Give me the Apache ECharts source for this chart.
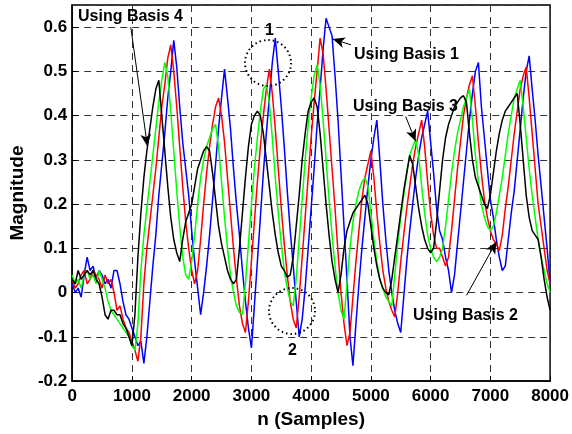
<!DOCTYPE html>
<html><head><meta charset="utf-8">
<script src="https://cdn.jsdelivr.net/npm/echarts@6/dist/echarts.min.js"></script>
<style>html,body{margin:0;padding:0;background:#fff}#c{width:572px;height:434px}</style>
</head><body><div id="c"></div>
<script>
// sample spacing of the read-off points (n, samples)
const STEP = 50;
const xTicks = [0,1000,2000,3000,4000,5000,6000,7000,8000];
const yTicks = [-0.2,-0.1,0,0.1,0.2,0.3,0.4,0.5,0.6];

// Using Basis 1 (blue)
const basis1 = [
 0.02,0.00,0.01,-0.01,0.04,0.08,0.05,0.06,0.03,0.05,
 0.04,0.02,0.03,0.01,0.05,0.05,0.02,-0.02,-0.05,-0.06,
 -0.08,-0.10,-0.12,-0.11,-0.16,-0.10,-0.02,0.06,0.13,0.22,
 0.29,0.36,0.44,0.50,0.57,0.51,0.42,0.34,0.28,0.22,
 0.14,0.07,0.01,-0.05,0.00,0.06,0.13,0.21,0.29,0.37,
 0.44,0.505,0.44,0.37,0.28,0.20,0.13,0.05,-0.02,-0.08,
 -0.125,-0.03,0.07,0.17,0.27,0.36,0.44,0.52,0.575,0.50,
 0.42,0.33,0.23,0.14,0.06,-0.02,-0.10,-0.06,0.01,0.10,
 0.19,0.28,0.38,0.46,0.55,0.62,0.60,0.58,0.49,0.39,
 0.27,0.15,0.03,-0.10,-0.165,-0.07,0.02,0.10,0.17,0.24,
 0.30,0.35,0.39,0.30,0.20,0.12,0.05,0.00,-0.04,-0.07,
 -0.09,-0.01,0.07,0.14,0.20,0.26,0.31,0.35,0.38,0.41,
 0.34,0.27,0.19,0.14,0.12,0.08,0.05,0.00,0.04,0.11,
 0.18,0.25,0.32,0.39,0.45,0.50,0.52,0.42,0.35,0.28,
 0.21,0.17,0.12,0.08,0.05,0.06,0.12,0.18,0.23,0.30,
 0.37,0.44,0.50,0.535,0.46,0.39,0.31,0.24,0.17,0.10,
 0.02];
// Using Basis 2 (red)
const basis2 = [
 0.03,0.01,0.02,0.04,0.05,0.02,0.03,0.05,0.04,0.03,
 0.01,0.04,0.02,0.03,0.00,-0.04,-0.03,-0.06,-0.08,-0.09,
 -0.11,-0.13,-0.155,-0.10,0.02,0.10,0.16,0.22,0.28,0.35,
 0.42,0.47,0.53,0.56,0.50,0.42,0.33,0.24,0.16,0.10,
 0.05,0.02,0.05,0.12,0.20,0.27,0.33,0.38,0.42,0.44,
 0.40,0.34,0.26,0.18,0.10,0.03,-0.03,-0.07,-0.09,-0.02,
 0.07,0.16,0.25,0.33,0.40,0.46,0.505,0.45,0.37,0.28,
 0.19,0.11,0.04,-0.02,-0.06,-0.08,-0.01,0.08,0.17,0.26,
 0.35,0.43,0.50,0.575,0.54,0.46,0.37,0.28,0.19,0.09,
 0.00,-0.07,-0.12,-0.09,-0.01,0.07,0.14,0.21,0.26,0.29,
 0.32,0.26,0.18,0.11,0.05,0.01,-0.02,-0.04,-0.055,0.00,
 0.07,0.13,0.19,0.24,0.29,0.33,0.36,0.39,0.33,0.25,
 0.18,0.13,0.10,0.10,0.08,0.06,0.08,0.14,0.21,0.28,
 0.34,0.40,0.44,0.47,0.49,0.42,0.34,0.27,0.21,0.17,
 0.14,0.12,0.11,0.095,0.13,0.19,0.24,0.30,0.36,0.41,
 0.46,0.49,0.51,0.44,0.36,0.28,0.20,0.15,0.10,0.05,
 0.02];
// Using Basis 3 (green)
const basis3 = [
 0.04,0.02,0.03,0.01,0.04,0.05,0.03,0.04,0.02,0.05,
 0.03,0.01,-0.02,-0.04,-0.05,-0.06,-0.07,-0.08,-0.09,-0.10,
 -0.12,-0.13,-0.07,0.05,0.13,0.19,0.25,0.31,0.37,0.43,
 0.48,0.52,0.49,0.41,0.32,0.23,0.15,0.08,0.04,0.03,
 0.07,0.13,0.20,0.26,0.30,0.33,0.35,0.37,0.38,0.33,
 0.25,0.17,0.10,0.04,0.00,-0.03,-0.045,-0.05,0.02,0.11,
 0.20,0.28,0.35,0.41,0.46,0.47,0.43,0.35,0.26,0.18,
 0.11,0.05,0.01,-0.02,-0.03,0.03,0.12,0.21,0.30,0.38,
 0.44,0.49,0.515,0.47,0.39,0.30,0.21,0.13,0.06,0.00,
 -0.04,-0.06,0.02,0.10,0.16,0.20,0.23,0.25,0.26,0.24,
 0.18,0.12,0.07,0.03,0.01,-0.01,-0.02,-0.03,0.04,0.11,
 0.17,0.22,0.27,0.31,0.33,0.345,0.31,0.24,0.18,0.13,
 0.10,0.08,0.07,0.08,0.10,0.15,0.21,0.27,0.32,0.36,
 0.39,0.42,0.44,0.46,0.39,0.31,0.25,0.20,0.17,0.15,
 0.14,0.15,0.18,0.22,0.26,0.31,0.36,0.40,0.44,0.46,
 0.48,0.42,0.35,0.28,0.22,0.17,0.12,0.08,0.05,0.02,
 0.00];
// Using Basis 4 (black)
const basis4 = [
 0.03,0.02,0.05,0.03,0.04,0.05,0.04,0.05,0.03,0.02,
 -0.01,-0.05,-0.06,-0.04,-0.04,-0.05,-0.05,-0.07,-0.08,-0.10,
 -0.12,-0.05,0.08,0.18,0.26,0.32,0.37,0.42,0.46,0.48,
 0.40,0.32,0.24,0.17,0.12,0.09,0.07,0.12,0.16,0.18,
 0.20,0.24,0.28,0.30,0.32,0.33,0.32,0.27,0.21,0.15,
 0.11,0.08,0.05,0.03,0.02,0.03,0.10,0.18,0.26,0.33,
 0.38,0.40,0.41,0.40,0.36,0.30,0.24,0.18,0.13,0.09,
 0.06,0.05,0.035,0.04,0.08,0.15,0.22,0.30,0.36,0.41,
 0.43,0.44,0.42,0.36,0.28,0.20,0.13,0.07,0.03,0.00,
 0.04,0.10,0.14,0.16,0.18,0.19,0.20,0.21,0.22,0.20,
 0.15,0.10,0.06,0.03,0.01,0.00,-0.005,0.03,0.08,0.13,
 0.18,0.23,0.27,0.31,0.29,0.24,0.19,0.15,0.12,0.10,
 0.09,0.10,0.16,0.23,0.30,0.35,0.38,0.40,0.42,0.43,
 0.44,0.445,0.43,0.36,0.30,0.26,0.24,0.22,0.20,0.19,
 0.22,0.27,0.32,0.36,0.39,0.41,0.42,0.43,0.44,0.45,
 0.38,0.30,0.22,0.17,0.14,0.13,0.12,0.08,0.03,-0.01,
 -0.04];

const pairs = arr => arr.map((v, i) => [i * STEP, v]);
const FONT = '"Liberation Sans", Arial, sans-serif';

// annotation arrows: [from, to] in data coordinates
const arrows = [
  [[981, 0.600], [1259, 0.331]],
  [[4668, 0.560], [4362, 0.573]],
  [[5582, 0.398], [5749, 0.342]],
  [[6602, -0.006], [7101, 0.115]]
];

const chart = echarts.init(document.getElementById('c'), null, {renderer: 'canvas'});
const mk = (name, color, data) => ({
  name, type: 'line', data: pairs(data), showSymbol: false, symbol: 'none',
  lineStyle: {color, width: 1.5}, itemStyle: {color}, animation: false, z: 2
});
const series = [
  mk('Using Basis 1', '#0000ff', basis1),
  mk('Using Basis 2', '#ff0000', basis2),
  mk('Using Basis 3', '#00ff00', basis3),
  mk('Using Basis 4', '#000000', basis4)
];
series[3].markLine = {
  silent: true, animation: false, symbol: ['none', 'arrow'], symbolSize: [8, 12],
  label: {show: false},
  lineStyle: {color: '#000', width: 1, type: 'solid'},
  data: arrows.map(a => [{coord: a[0]}, {coord: a[1]}])
};

const txt = (left, top, text) => ({
  type: 'text', left, top, z: 100,
  style: {text, font: 'bold 16px ' + FONT, fill: '#000'}
});

chart.setOption({
  animation: false,
  grid: {left: 71, right: 20, top: 5, bottom: 51, show: true, borderColor: '#000', borderWidth: 1.5, backgroundColor: '#fff'},
  xAxis: {
    type: 'value', min: 0, max: 8000, interval: 1000,
    name: 'n (Samples)', nameLocation: 'middle', nameGap: 19,
    nameTextStyle: {fontFamily: FONT, fontWeight: 'bold', fontSize: 19, color: '#000'},
    axisLine: {show: true, onZero: false, lineStyle: {color: '#000', width: 1.5}},
    axisTick: {show: true, inside: true, length: 5, lineStyle: {color: '#000'}},
    axisLabel: {fontFamily: FONT, fontWeight: 'bold', fontSize: 17, color: '#000', margin: 7,
      formatter: v => String(Math.round(v))},
    splitLine: {show: true, lineStyle: {color: '#333', type: [7, 5], width: 1}}
  },
  yAxis: {
    type: 'value', min: -0.2, max: 0.65, interval: 0.1,
    name: 'Magnitude', nameLocation: 'middle', nameGap: 44,
    nameTextStyle: {fontFamily: FONT, fontWeight: 'bold', fontSize: 19, color: '#000'},
    axisLine: {show: true, onZero: false, lineStyle: {color: '#000', width: 1.5}},
    axisTick: {show: true, inside: true, length: 5, lineStyle: {color: '#000'}},
    axisLabel: {fontFamily: FONT, fontWeight: 'bold', fontSize: 17, color: '#000', margin: 5, showMaxLabel: false,
      formatter: v => (Math.abs(v) < 1e-9 ? '0' : (+v.toFixed(2)).toString())},
    splitLine: {show: true, lineStyle: {color: '#333', type: [7, 5], width: 1}}
  },
  series,
  graphic: [
    txt(78, 9, 'Using Basis 4'),
    txt(354, 47, 'Using Basis 1'),
    txt(353, 99, 'Using Basis 3'),
    txt(413, 308, 'Using Basis 2'),
    txt(265, 23, '1'),
    txt(288, 343, '2'),
    {type: 'circle', z: 100, shape: {cx: 268, cy: 63, r: 23}, style: {fill: 'none', stroke: '#000', lineWidth: 2, lineDash: [1.5, 3]}},
    {type: 'circle', z: 100, shape: {cx: 292, cy: 311, r: 23}, style: {fill: 'none', stroke: '#000', lineWidth: 2, lineDash: [1.5, 3]}}
  ]
});
</script></body></html>
